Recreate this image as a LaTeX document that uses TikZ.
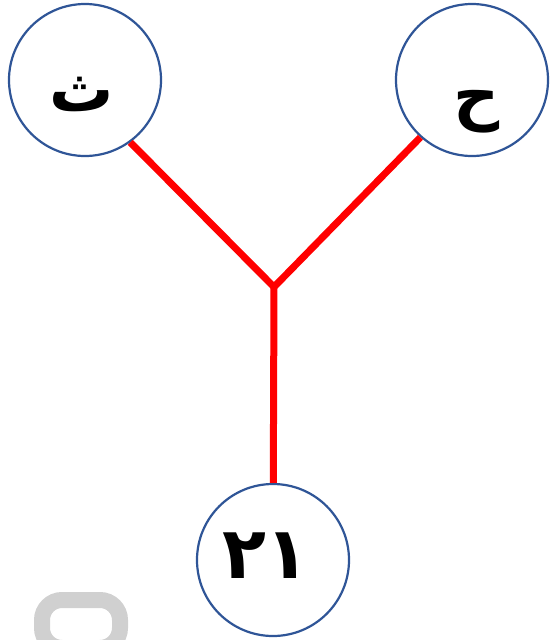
\documentclass[tikz,border=0pt]{standalone}
\usepackage{fontspec}
\newfontfamily\arabicfont[Script=Arabic]{DejaVu Sans}
\TeXXeTstate=1
\definecolor{ringblue}{HTML}{2F5597}
\definecolor{knobgray}{HTML}{D0D0D0}
\begin{document}
\begin{tikzpicture}[x=1pt,y=-1pt,
	ring/.style={circle,draw=ringblue,line width=2.2pt,fill=white,minimum size=152pt,inner sep=0pt},
	letter/.style={font=\arabicfont\bfseries\fontsize{64}{70}\selectfont,inner sep=0pt},
	branch/.style={draw=red,line width=7pt}]
\useasboundingbox (0,0) rectangle (550,640);
% the three circles
\node[ring] (tha) at (85,80) {};
\node[ring] (ha) at (472,80) {};
\node[ring] (num) at (273,560) {};
\node[letter] at (82,94) {\beginR ث\endR};
\node[letter] at (477,112) {\beginR ح\endR};
\node[letter,font=\arabicfont\bfseries\fontsize{72}{78}\selectfont] at (266,556) {٢١};
% red branches
\coordinate (fork) at (274,287);
\path[branch] (fork) -- (tha.-54);
\path[branch] (fork) -- (ha.-132);
\path[branch] (fork) -- (num);
% grey knob at the bottom
\draw[knobgray,line width=16pt,rounded corners=20pt] (42,600) rectangle (120,648);
\end{tikzpicture}
\end{document}
